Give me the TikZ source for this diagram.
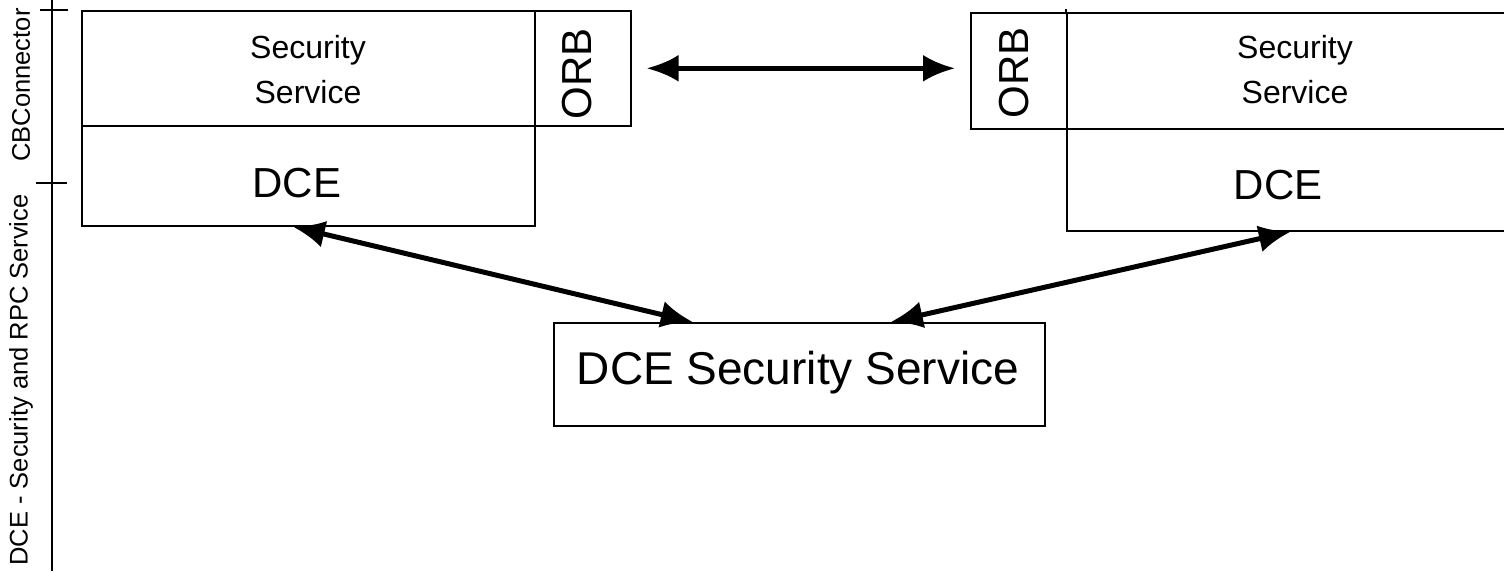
\documentclass[tikz,border=0pt]{standalone}
\usepackage{fontspec}
\setmainfont{Liberation Sans}
\usetikzlibrary{arrows.meta}
\begin{document}
\begin{tikzpicture}[x=1pt,y=-1pt,
  box/.style={draw,line width=1.6pt,rectangle,inner sep=0pt,anchor=north west},
  lbl/.style={inner sep=0pt,align=center},
  rule/.style={line width=1.6pt},
  tip/.tip={Latex[length=32pt,width=27pt]},
  arr/.style={line width=5pt,tip-tip},
  small/.style={font=\fontsize{32}{45}\selectfont},
  mid/.style={font=\fontsize{42}{50}\selectfont},
  big/.style={font=\fontsize{46}{55}\selectfont},
  side/.style={font=\fontsize{25.5}{30}\selectfont,rotate=90,inner sep=0pt}]
\useasboundingbox (0,0) rectangle (1504,571);
\clip (0,0) rectangle (1504,571);

% layer ruler on the left
\coordinate (rtop) at (52,0);
\coordinate (rbot) at (52,571);
\draw[rule] (rtop) -- (rbot);
\draw[rule] (40,10) -- (68,10);
\draw[rule] (36,183) -- (67,183);
\node[side] (lay1) at (21,85) {CBConnector};
\node[side] (lay2) at (21,380) {DCE - Security and RPC Service};

% left stack
\node[box,minimum width=453pt,minimum height=115pt] (secL) at (81,10) {};
\node[box,minimum width=96pt,minimum height=115pt] (orbL) at (534,10) {};
\node[box,minimum width=453pt,minimum height=100pt] (dceL) at (81,125) {};
\node[lbl,small] (secLt) at (308,70) {Security\\Service};
\node[lbl,mid] (dceLt) at (297,183) {DCE};
\node[lbl,mid,rotate=90] (orbLt) at (577,74) {ORB};

% right stack
\node[box,minimum width=96pt,minimum height=116pt] (orbR) at (970,12) {};
\node[box,minimum width=460pt,minimum height=116pt] (secR) at (1066,12) {};
\node[box,minimum width=460pt,minimum height=102pt] (dceR) at (1066,128) {};
\draw[line width=1.6pt] (secR.north west) -- ++(0,-3);
\node[lbl,small] (secRt) at (1295,70) {Security\\Service};
\node[lbl,mid] (dceRt) at (1278,185) {DCE};
\node[lbl,mid,rotate=90] (orbRt) at (1014,73) {ORB};

% central service
\node[box,minimum width=491pt,minimum height=103pt] (dss) at (553,322) {};
\node[lbl,big] (dsst) at (798,373) {DCE Security Service};

% connections
\draw[arr,shorten <=15pt,shorten >=15pt] (orbL.east) -- (orbL.east -| orbR.west);
\draw[arr] ([xshift=-15.5pt]dceL.south) -- ([xshift=-106.5pt]dss.north);
\draw[arr] ([xshift=-6pt]dceR.south) -- ([xshift=91.5pt]dss.north);
\end{tikzpicture}
\end{document}
